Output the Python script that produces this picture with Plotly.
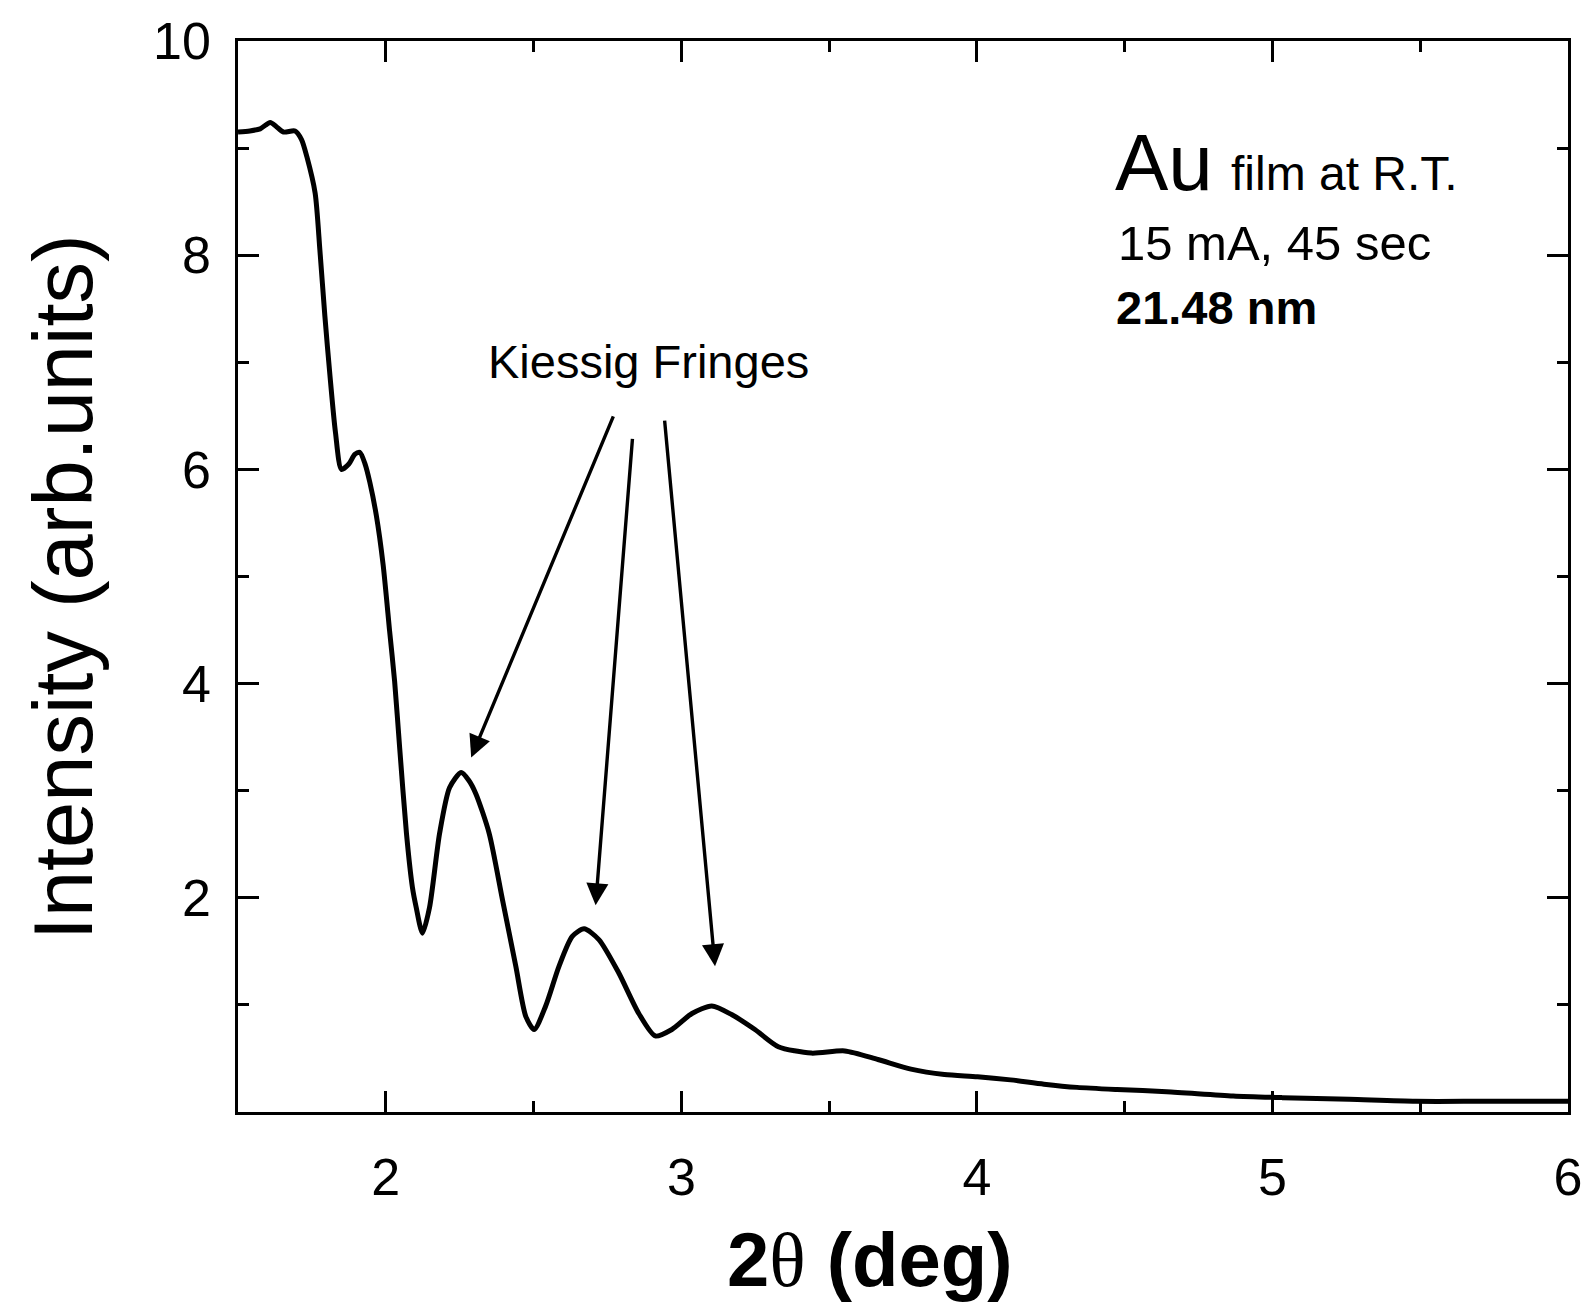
import plotly.graph_objects as go

# ---- data ----
two_theta = [1.50, 1.54, 1.575, 1.609, 1.63, 1.654, 1.693, 1.715, 1.733, 1.761, 1.777,
             1.794, 1.811, 1.830, 1.850, 1.875, 1.895, 1.912, 1.930, 1.946, 1.968, 1.991,
             2.013, 2.030, 2.047, 2.070, 2.090, 2.103, 2.124, 2.148, 2.182, 2.216, 2.255,
             2.280, 2.305, 2.350, 2.395, 2.440, 2.474, 2.502, 2.541, 2.586, 2.631, 2.671,
             2.721, 2.788, 2.856, 2.912, 2.968, 3.036, 3.103, 3.170, 3.249, 3.328, 3.440,
             3.553, 3.665, 3.777, 3.890, 4.002, 4.114, 4.227, 4.339, 4.474, 4.642, 4.867,
             5.035, 5.260, 5.485, 5.710, 6.000]
intensity = [9.15, 9.16, 9.18, 9.24, 9.20, 9.15, 9.16, 9.08, 8.92, 8.58, 8.05,
             7.43, 6.88, 6.34, 6.00, 6.05, 6.14, 6.16, 6.05, 5.88, 5.57, 5.11,
             4.49, 4.02, 3.40, 2.60, 2.10, 1.91, 1.67, 1.91, 2.60, 3.03, 3.17,
             3.10, 2.97, 2.60, 1.98, 1.36, 0.89, 0.77, 0.99, 1.36, 1.64, 1.71,
             1.61, 1.30, 0.92, 0.71, 0.77, 0.92, 0.99, 0.91, 0.77, 0.61, 0.55,
             0.57, 0.49, 0.40, 0.35, 0.33, 0.30, 0.26, 0.23, 0.21, 0.19, 0.15,
             0.134, 0.118, 0.10, 0.10, 0.10]

x_ticks = [2, 3, 4, 5, 6]
y_ticks = [2, 4, 6, 8, 10]

# arrows: (tail x, tail y, head x, head y) in data units
arrow_tails_x = [2.772, 2.835, 2.943]
arrow_tails_y = [6.51, 6.30, 6.47]
arrow_heads_x = [2.289, 2.710, 3.114]
arrow_heads_y = [3.31, 1.93, 1.36]

FONT = "Liberation Sans, Arial, sans-serif"

fig = go.Figure()
fig.add_trace(go.Scatter(
    x=two_theta, y=intensity, mode="lines",
    line=dict(color="black", width=5, shape="spline", smoothing=0.7),
    showlegend=False, hoverinfo="skip"))

axis_common = dict(
    showline=True, linecolor="black", linewidth=2.5, mirror="allticks",
    ticks="inside", ticklen=21, tickwidth=2.5, tickcolor="black",
    showgrid=False, zeroline=False,
    tickfont=dict(family=FONT, size=52, color="black"),
)

fig.update_xaxes(range=[1.5, 6], tickmode="array", tickvals=x_ticks,
                 ticklabelstandoff=18,
                 minor=dict(dtick=0.5, tick0=1.5, ticks="inside", ticklen=11,
                            tickwidth=2.5, tickcolor="black"),
                 **axis_common)
fig.update_yaxes(range=[0, 10], tickmode="array", tickvals=y_ticks,
                 ticklabelstandoff=14,
                 minor=dict(dtick=1, tick0=0, ticks="inside", ticklen=11,
                            tickwidth=2.5, tickcolor="black"),
                 **axis_common)

annotations = []
for tx, ty, hx, hy in zip(arrow_tails_x, arrow_tails_y, arrow_heads_x, arrow_heads_y):
    annotations.append(dict(
        x=hx, y=hy, ax=tx, ay=ty, xref="x", yref="y", axref="x", ayref="y",
        text="", showarrow=True, arrowhead=2, arrowsize=1.3, arrowwidth=3.4,
        arrowcolor="black", standoff=0, startstandoff=0))

annotations += [
    dict(x=2.890, y=7.005, xref="x", yref="y", text="Kiessig Fringes",
         showarrow=False, xanchor="center", yanchor="middle",
         font=dict(family=FONT, size=47, color="black")),
    dict(x=4.462, y=8.87, xref="x", yref="y", text="Au",
         showarrow=False, xanchor="left", yanchor="middle",
         font=dict(family=FONT, size=80, color="black")),
    dict(x=4.853, y=8.76, xref="x", yref="y", text="film at R.T.",
         showarrow=False, xanchor="left", yanchor="middle",
         font=dict(family=FONT, size=48, color="black")),
    dict(x=4.470, y=8.11, xref="x", yref="y", text="15 mA, 45 sec",
         showarrow=False, xanchor="left", yanchor="middle",
         font=dict(family=FONT, size=49, color="black")),
    dict(x=4.463, y=7.51, xref="x", yref="y", text="<b>21.48 nm</b>",
         showarrow=False, xanchor="left", yanchor="middle",
         font=dict(family=FONT, size=47, color="black")),
    # axis titles
    dict(x=-0.1316, y=0.49, xref="paper", yref="paper",
         text="Intensity (arb.units)", textangle=-90, showarrow=False,
         xanchor="center", yanchor="middle",
         font=dict(family=FONT, size=83, color="black")),
    dict(x=0.475, y=-0.138, xref="paper", yref="paper",
         text="<b>2</b><span style='font-family:\"Liberation Serif\", \"DejaVu Serif\", serif'>θ</span><b> (deg)</b>",
         showarrow=False, xanchor="center", yanchor="middle",
         font=dict(family=FONT, size=76, color="black")),
]

fig.update_layout(
    width=1594, height=1306,
    margin=dict(l=238, r=19, t=36, b=194),
    paper_bgcolor="white", plot_bgcolor="white",
    annotations=annotations,
    showlegend=False,
)

fig.write_html("out.html")
